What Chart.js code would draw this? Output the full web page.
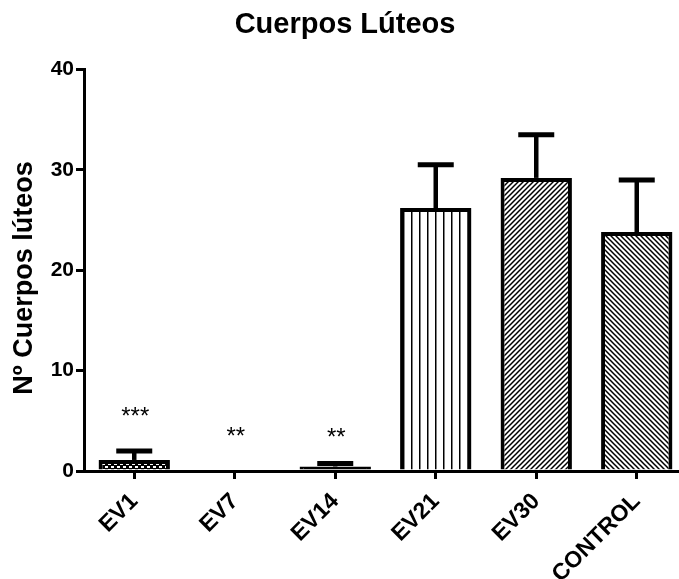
<!DOCTYPE html>
<html lang="es">
<head>
    <meta charset="UTF-8">
    <title>Cuerpos Lúteos</title>
    <script src="https://cdn.jsdelivr.net/npm/chart.js"></script>
    <style>
        html, body { margin: 0; padding: 0; background: #fff; overflow: hidden; }
        canvas { display: block; }
    </style>
</head>
<body>
    <canvas id="myChart" width="700" height="579"></canvas>
    <script>
        // datos
        const categories = ['EV1', 'EV7', 'EV14', 'EV21', 'EV30', 'CONTROL'];
        const means = [1.1, 0, 0.45, 26.2, 29.2, 23.8];
        const errors = [0.9, 0, 0.3, 4.3, 4.3, 5.2];
        const stars = ['***', '**', '**', '', '', ''];
        const starLevels = [6, 4, 3.9, null, null, null];
        const yTicks = [0, 10, 20, 30, 40];

        const FONT = 'Arial, "Liberation Sans", sans-serif';
        Chart.defaults.font.family = FONT;
        Chart.defaults.color = '#000';

        function makePattern(kind) {
            const c = document.createElement('canvas');
            const ctx = c.getContext('2d');
            if (kind === 'dots') {
                c.width = 6; c.height = 6;
                ctx.fillStyle = '#000';
                ctx.fillRect(0, 0, 6, 6);
                ctx.fillStyle = '#fff';
                ctx.fillRect(0, 1, 3, 2);
                ctx.fillRect(3, 4, 3, 2);
            } else if (kind === 'vertical') {
                c.width = 8; c.height = 8;
                ctx.fillStyle = '#fff';
                ctx.fillRect(0, 0, 8, 8);
                ctx.fillStyle = '#000';
                ctx.fillRect(3, 0, 1.5, 8);
            } else if (kind === 'solid') {
                return '#000';
            } else {
                const s = 5;
                c.width = s; c.height = s;
                ctx.fillStyle = '#fff';
                ctx.fillRect(0, 0, s, s);
                ctx.strokeStyle = '#000';
                ctx.lineWidth = 1.5;
                ctx.beginPath();
                if (kind === 'fwd') {
                    ctx.moveTo(-1, s + 1); ctx.lineTo(s + 1, -1);
                    ctx.moveTo(-1, 1); ctx.lineTo(1, -1);
                    ctx.moveTo(s - 1, s + 1); ctx.lineTo(s + 1, s - 1);
                } else {
                    ctx.moveTo(-1, -1); ctx.lineTo(s + 1, s + 1);
                    ctx.moveTo(-1, s - 1); ctx.lineTo(1, s + 1);
                    ctx.moveTo(s - 1, -1); ctx.lineTo(s + 1, 1);
                }
                ctx.stroke();
            }
            return ctx.createPattern(c, 'repeat');
        }

        const fills = ['dots', 'solid', 'solid', 'vertical', 'fwd', 'back'].map(makePattern);

        const extras = {
            id: 'extras',
            afterDatasetsDraw(chart) {
                const ctx = chart.ctx;
                const x = chart.scales.x, y = chart.scales.y;
                ctx.save();
                ctx.strokeStyle = '#000';
                ctx.lineCap = 'butt';
                means.forEach((m, i) => {
                    if (!errors[i]) return;
                    const cx = x.getPixelForValue(i);
                    const y0 = y.getPixelForValue(m);
                    const y1 = y.getPixelForValue(m + errors[i]);
                    ctx.lineWidth = 4.5;
                    ctx.beginPath();
                    ctx.moveTo(cx, y0);
                    ctx.lineTo(cx, y1);
                    ctx.stroke();
                    ctx.lineWidth = 5;
                    ctx.beginPath();
                    ctx.moveTo(cx - 18, y1);
                    ctx.lineTo(cx + 18, y1);
                    ctx.stroke();
                });
                // asteriscos
                ctx.fillStyle = '#000';
                ctx.font = '24px ' + FONT;
                ctx.textAlign = 'center';
                ctx.textBaseline = 'alphabetic';
                stars.forEach((s, i) => {
                    if (!s) return;
                    const cx = x.getPixelForValue(i);
                    const cy = y.getPixelForValue(starLevels[i]);
                    ctx.fillText(s, cx + 1, cy + 13);
                });
                ctx.restore();
            },
            afterDraw(chart) {
                const ctx = chart.ctx;
                ctx.save();
                ctx.fillStyle = '#000';
                ctx.textAlign = 'center';
                ctx.font = 'bold 29px ' + FONT;
                ctx.textBaseline = 'alphabetic';
                ctx.fillText('Cuerpos Lúteos', 345, 33);
                ctx.translate(25, 278);
                ctx.rotate(-Math.PI / 2);
                ctx.font = 'bold 27px ' + FONT;
                ctx.textBaseline = 'middle';
                ctx.fillText('Nº Cuerpos lúteos', 0, 0);
                ctx.restore();
            }
        };

        const ctx = document.getElementById('myChart').getContext('2d');
        const myChart = new Chart(ctx, {
            type: 'bar',
            data: {
                labels: categories,
                datasets: [{
                    data: means,
                    backgroundColor: fills,
                    borderColor: '#000',
                    borderWidth: 4,
                    barPercentage: 0.71,
                    categoryPercentage: 1.0
                }]
            },
            options: {
                responsive: false,
                animation: false,
                layout: { padding: { top: 69.5, right: 13, bottom: 0, left: 0 } },
                plugins: {
                    legend: { display: false },
                    tooltip: { enabled: false }
                },
                scales: {
                    x: {
                        border: { width: 3, color: '#000' },
                        grid: { drawOnChartArea: false, offset: false, tickLength: 8, lineWidth: 3, color: '#000' },
                        ticks: {
                            minRotation: 45, maxRotation: 45,
                            font: { size: 23, weight: 'bold' },
                            color: '#000',
                            padding: 9
                        },
                        afterFit(s) { s.height = 108; }
                    },
                    y: {
                        min: 0, max: 40,
                        border: { width: 3, color: '#000' },
                        grid: { drawOnChartArea: false, tickLength: 8, lineWidth: 3, color: '#000' },
                        afterBuildTicks(s) { s.ticks = yTicks.map(v => ({ value: v })); },
                        ticks: {
                            font: { size: 21, weight: 'bold' },
                            color: '#000',
                            padding: 2
                        },
                        afterFit(s) { s.width = 84; }
                    }
                }
            },
            plugins: [extras]
        });
    </script>
</body>
</html>
